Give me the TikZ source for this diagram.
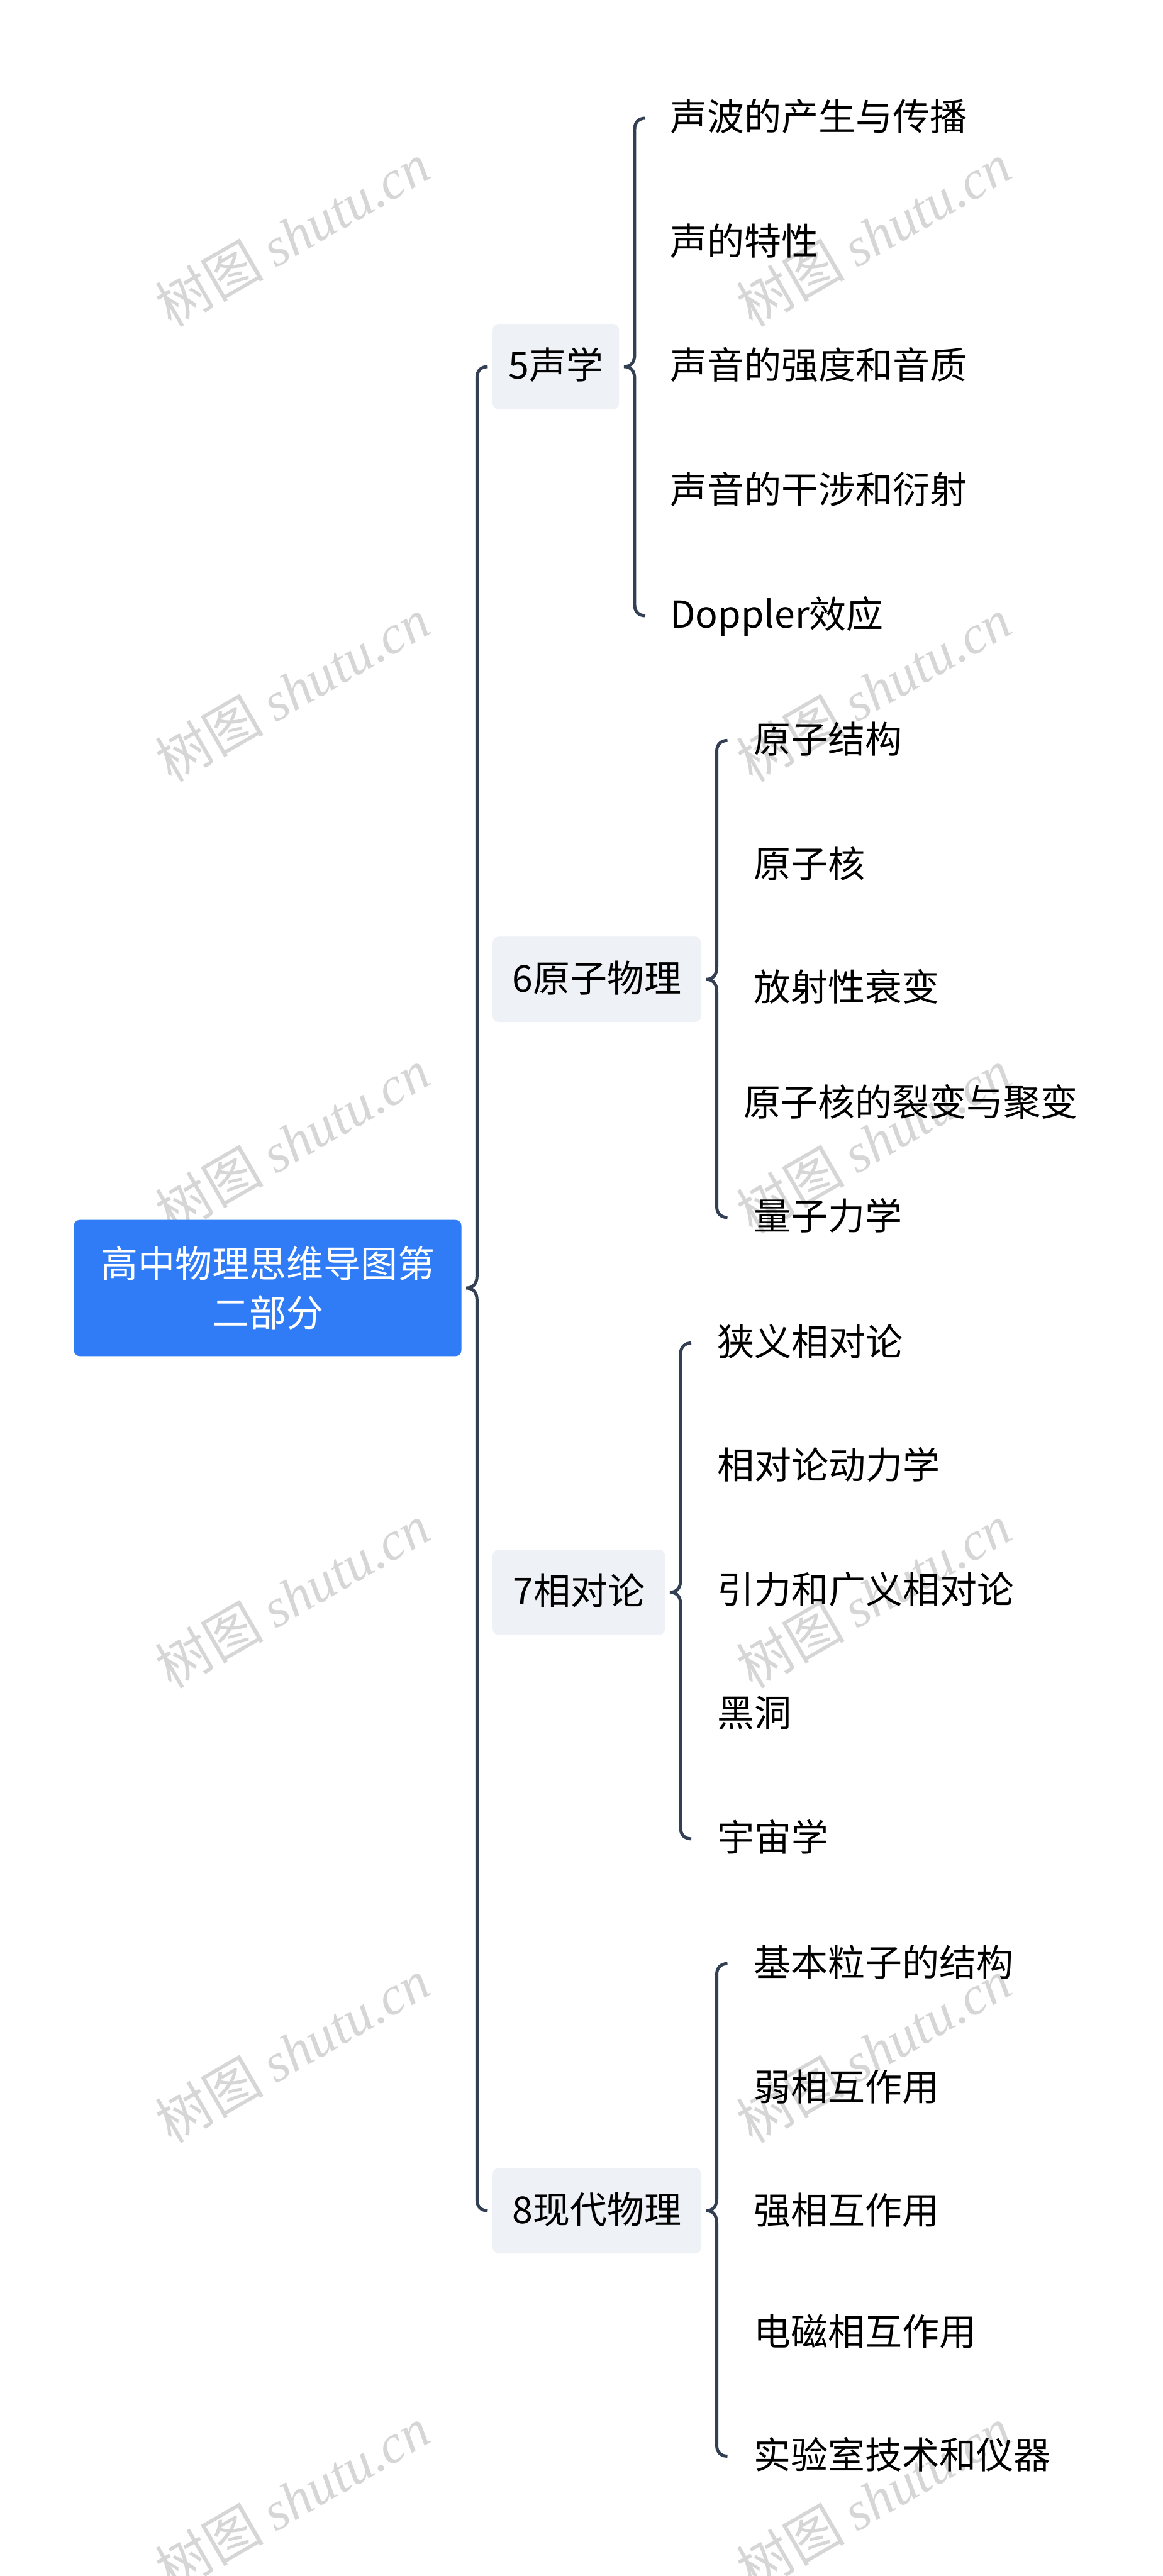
\documentclass[tikz,border=0pt]{standalone}
\usepackage{fontspec}
\setmainfont{Noto Sans CJK SC}
\newfontfamily\wmcjk{Noto Sans CJK SC}
\newfontfamily\wmlat{Liberation Serif}
\usetikzlibrary{calc}
\definecolor{rootblue}{HTML}{2F7CF6}
\definecolor{subgray}{HTML}{EEF1F5}
\definecolor{linecol}{HTML}{333F52}
\definecolor{wmgray}{HTML}{D6D6D6}
\newcommand\mybrace[3]{%
  \draw[conn] let \p1=($(#1.east)+(3pt,0)$), \p2=(#2.west), \p3=(#3.west) in
   (\x1+13pt,\y2) .. controls (\x1+9pt,\y2) and (\x1+6.5pt,\y2-2.5pt) .. (\x1+6.5pt,\y2-6.5pt)
   -- (\x1+6.5pt,\y1+7.5pt) .. controls (\x1+6.5pt,\y1+3pt) and (\x1+4.5pt,\y1) .. (\x1,\y1)
   .. controls (\x1+4.5pt,\y1) and (\x1+6.5pt,\y1-3pt) .. (\x1+6.5pt,\y1-7.5pt)
   -- (\x1+6.5pt,\y3+6.5pt) .. controls (\x1+6.5pt,\y3+2.5pt) and (\x1+9pt,\y3) .. (\x1+13pt,\y3);
}
\begin{document}
\begin{tikzpicture}[x=1pt,y=-1pt,
  every node/.style={inner sep=0pt, outer sep=0pt, font=\fontsize{22.6}{30}\selectfont},
  leaf/.style={anchor=west, text height=1.6em, text depth=0.07em},
  topic/.style={anchor=west, fill=subgray, rounded corners=3.7pt, minimum height=52pt, text height=1.6em, text depth=0.07em},
  rootbox/.style={fill=rootblue, text=white, rounded corners=3.7pt, minimum width=236pt, minimum height=83pt, align=center},
  conn/.style={draw=linecol, line width=1.9pt},
  wm/.style={text=wmgray, rotate=30, font=\fontsize{33}{33}\selectfont}
]
\useasboundingbox (0,0) rectangle (708,1569);
\fill[white] (0,0) rectangle (708,1569);

% watermarks
\foreach \yy [count=\i] in {143,420,695,972,1249,1522} {
  \node[wm] (wl\i) at (178,\yy) {{\wmcjk 树图} {\wmlat\itshape shutu.cn}};
  \node[wm] (wr\i) at (532,\yy) {{\wmcjk 树图} {\wmlat\itshape shutu.cn}};
}

% root
\node[rootbox] (root) at (163,784.5) {高中物理思维导图第\\二部分};

% topics
\node[topic, minimum width=77pt] (t5) at (300,223.3) {5声学};
\node[topic, minimum width=127pt] (t6) at (300,596.5) {6原子物理};
\node[topic, minimum width=105pt] (t7) at (300,969.8) {7相对论};
\node[topic, minimum width=127pt] (t8) at (300,1346.5) {8现代物理};

% leaves of 5
\node[leaf] (a1) at (408,72) {声波的产生与传播};
\node[leaf] (a2) at (408,147.5) {声的特性};
\node[leaf] (a3) at (408,223) {声音的强度和音质};
\node[leaf] (a4) at (408,299) {声音的干涉和衍射};
\node[leaf] (a5) at (408,375) {Doppler效应};

% leaves of 6
\node[leaf] (b1) at (459,451) {原子结构};
\node[leaf] (b2) at (459,527) {原子核};
\node[leaf] (b3) at (459,602) {放射性衰变};
\node[leaf] (b4) at (453,672) {原子核的裂变与聚变};
\node[leaf] (b5) at (459,741.5) {量子力学};

% leaves of 7
\node[leaf] (c1) at (437,818) {狭义相对论};
\node[leaf] (c2) at (437,893) {相对论动力学};
\node[leaf] (c3) at (437,969) {引力和广义相对论};
\node[leaf] (c4) at (437,1044) {黑洞};
\node[leaf] (c5) at (437,1120) {宇宙学};

% leaves of 8
\node[leaf] (d1) at (459,1196) {基本粒子的结构};
\node[leaf] (d2) at (459,1272) {弱相互作用};
\node[leaf] (d3) at (459,1347) {强相互作用};
\node[leaf] (d4) at (459,1421) {电磁相互作用};
\node[leaf] (d5) at (459,1496) {实验室技术和仪器};

% braces
\mybrace{root}{t5}{t8}
\mybrace{t5}{a1}{a5}
\mybrace{t6}{b1}{b5}
\mybrace{t7}{c1}{c5}
\mybrace{t8}{d1}{d5}
\end{tikzpicture}
\end{document}
